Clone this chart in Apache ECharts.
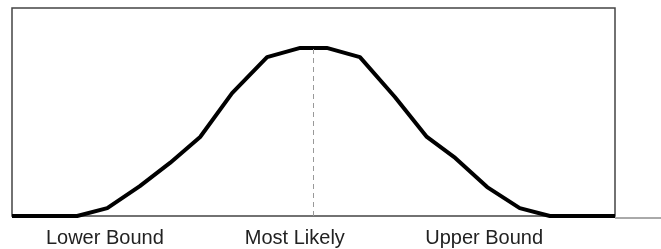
<!DOCTYPE html>
<html>
<head>
<meta charset="utf-8">
<script src="https://cdn.jsdelivr.net/npm/echarts@6/dist/echarts.min.js"></script>
<style>
  html, body { margin: 0; padding: 0; background: #fff; }
  #chart { width: 661px; height: 249px; }
</style>
</head>
<body>
<div id="chart"></div>
<script>
// curve vertices, x and density on a 0-100 scale
var curveX = [0, 10.8, 15.8, 21.2, 26.2, 31.2, 36.5, 42.3, 47.8, 52.2, 57.7, 63.5, 68.8, 73.5, 78.8, 84.2, 89.2, 100];
var curveY = [0, 0, 3.8, 14.4, 25.5, 38.0, 59.1, 76.4, 80.8, 80.8, 76.4, 57.2, 38.0, 27.9, 13.9, 3.8, 0, 0];

// bottom labels
var labelNames = ['Lower Bound', 'Most Likely', 'Upper Bound'];
var labelPos = [15.4, 46.9, 78.3];

// most likely marker
var modeX = 50;
var modeY = 80.8;

var chart = echarts.init(document.getElementById('chart'), null, { renderer: 'canvas' });

var points = curveX.map(function (x, i) { return [x, curveY[i]]; });

var option = {
  backgroundColor: '#fff',
  animation: false,
  grid: {
    left: 12,
    right: 46,
    top: 8,
    bottom: 33,
    show: true,
    borderColor: '#444',
    borderWidth: 1.5
  },
  xAxis: {
    type: 'value',
    min: 0,
    max: 100,
    axisLine: { show: false },
    axisTick: { show: false },
    splitLine: { show: false },
    axisLabel: {
      customValues: labelPos,
      margin: 12,
      fontSize: 20,
      fontFamily: 'Liberation Sans, Arial, sans-serif',
      color: '#222',
      formatter: function (value) {
        var i = labelPos.indexOf(value);
        return i >= 0 ? labelNames[i] : '';
      }
    }
  },
  yAxis: {
    type: 'value',
    min: 0,
    max: 100,
    show: false
  },
  graphic: [{
    type: 'line',
    shape: { x1: 615, y1: 218, x2: 661, y2: 218 },
    style: { stroke: '#555', lineWidth: 1 }
  }],
  series: [{
    type: 'line',
    data: points,
    symbol: 'none',
    lineStyle: { color: '#000', width: 4 },
    z: 3,
    markLine: {
      silent: true,
      symbol: 'none',
      label: { show: false },
      lineStyle: { color: '#999', width: 1, type: [5, 4] },
      data: [[{ coord: [modeX, 0] }, { coord: [modeX, modeY] }]]
    }
  }]
};

chart.setOption(option);
</script>
</body>
</html>
